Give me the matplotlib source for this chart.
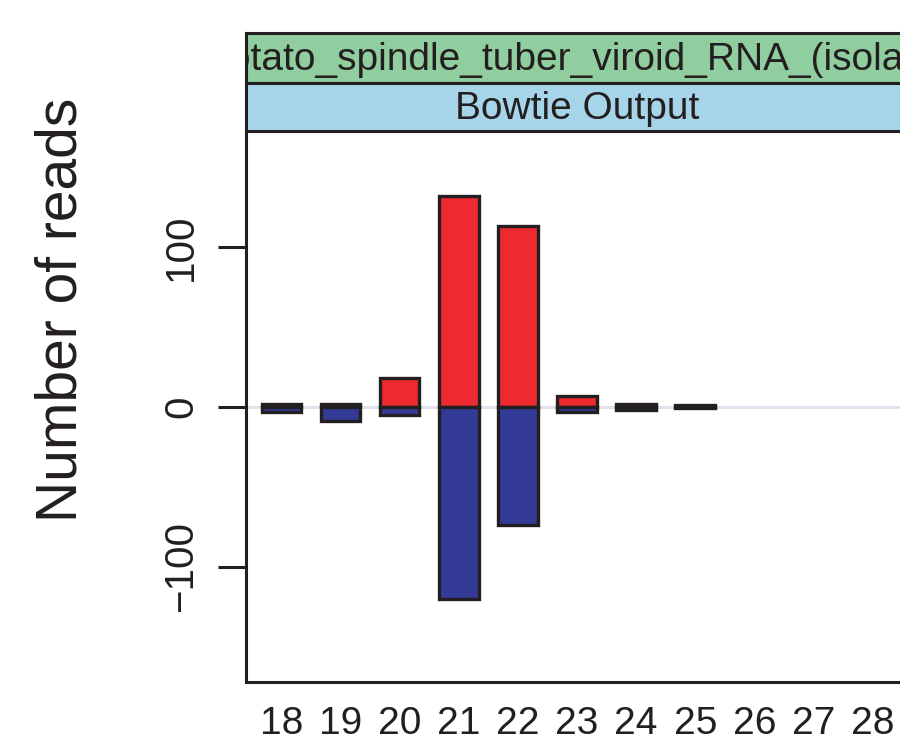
import matplotlib.pyplot as plt
import numpy as np

# read lengths and counts (sense reads up, antisense reads down)
lengths = [18, 19, 20, 21, 22, 23, 24, 25, 26, 27, 28]
sense = [2, 2, 18, 132, 113, 7, 2, 1, 0, 0, 0]
antisense = [-3, -9, -5, -120, -74, -3, -2, -1, 0, 0, 0]
yticks = [-100, 0, 100]
strip_top = "Potato_spindle_tuber_viroid_RNA_(isolate)"
strip_bottom = "Bowtie Output"

plt.rcParams['font.family'] = ['Liberation Sans', 'DejaVu Sans']
dark = '#231f20'

W, H = 900, 746
fig = plt.figure(figsize=(9, 7.46), dpi=100)

def box(l, t, r, b):
  # pixel box -> figure fraction
  return [l / W, 1 - b / H, (r - l) / W, (b - t) / H]

ax = fig.add_axes(box(246, 131, 908, 682))
ax.axhline(0, color='#e2e2ec', lw=2.2, zorder=1)
x = np.array(lengths)
up = np.array(sense)
down = np.array(antisense)
# empty lengths get no bar at all
ax.bar(x[up != 0], up[up != 0], width=0.67, color='#ec2a2f', edgecolor=dark, linewidth=2.4, zorder=2)
ax.bar(x[down != 0], down[down != 0], width=0.67, color='#343b96', edgecolor=dark, linewidth=2.4, zorder=2)
ax.set_xlim(17.4, 28.6)
ax.set_ylim(-172, 172.5)
ax.set_xticks(lengths)
ax.set_xticklabels([str(v) for v in lengths], fontsize=28, color=dark)
ax.set_yticks(yticks)
ax.set_yticklabels([str(v).replace('-', '\u2212') for v in yticks], fontsize=29,
                   rotation=90, va='center', color=dark)
ax.tick_params(axis='x', length=0, pad=17)
ax.tick_params(axis='y', length=20, width=2.2, pad=13, color=dark)
for s in ax.spines.values():
  s.set_linewidth(2.2)
  s.set_color(dark)

# strips
for (t, b, col, txt) in [(33, 83, '#90cd9f', strip_top), (83, 131, '#a6d5ea', strip_bottom)]:
  sa = fig.add_axes(box(246, t, 908, b))
  sa.set_facecolor(col)
  sa.set_xticks([])
  sa.set_yticks([])
  for s in sa.spines.values():
    s.set_linewidth(2.2)
    s.set_color(dark)
  sa.text(0.5, 0.46, txt, transform=sa.transAxes, ha='center', va='center',
          fontsize=28, color=dark, clip_on=True)

fig.text(62 / W, 1 - 310 / H, 'Number of reads', rotation=90, ha='center',
         va='center', fontsize=41, color=dark)

fig.savefig('out.png', dpi=100)
